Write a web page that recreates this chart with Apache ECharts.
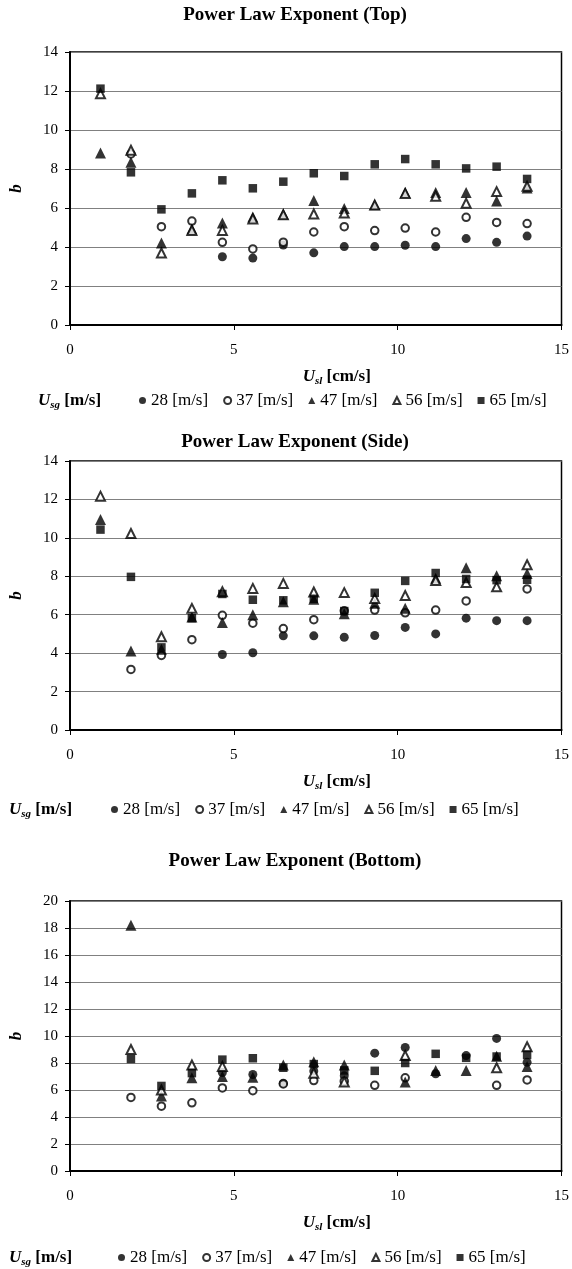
<!DOCTYPE html>
<html>
<head>
<meta charset="utf-8">
<script src="https://cdn.jsdelivr.net/npm/echarts@6/dist/echarts.min.js"></script>
<style>
  html, body { margin: 0; padding: 0; background: #fff; }
  #main { width: 572px; height: 1269px; }
</style>
</head>
<body>
<div id="main"></div>
<script>
// superficial liquid velocity, cm/s
var usl = [0.93, 1.86, 2.79, 3.72, 4.65, 5.58, 6.51, 7.44, 8.37, 9.30, 10.23, 11.16, 12.09, 13.02, 13.95];
var names = ['28 [m/s]', '37 [m/s]', '47 [m/s]', '56 [m/s]', '65 [m/s]'];
var xTicks = [0, 5, 10, 15];

// top
var top28 = [null, null, null, null, 3.5, 3.43, 4.1, 3.7, 4.02, 4.02, 4.09, 4.02, 4.43, 4.24, 4.56];
var top37 = [null, 8.77, 5.04, 5.33, 4.24, 3.9, 4.25, 4.77, 5.04, 4.84, 4.97, 4.77, 5.52, 5.26, 5.2];
var top47 = [8.82, 8.34, 4.2, 4.92, 5.23, 5.54, 5.69, 6.38, 5.97, 6.17, 6.79, 6.79, 6.79, 6.36, 7.03];
var top56 = [11.86, 8.96, 3.69, 4.85, 4.85, 5.44, 5.65, 5.69, 5.74, 6.15, 6.75, 6.6, 6.24, 6.84, 7.11];
var top65 = [12.12, 7.83, 5.93, 6.75, 7.42, 7.01, 7.35, 7.78, 7.64, 8.24, 8.51, 8.24, 8.03, 8.12, 7.49];

// side
var side28 = [null, null, null, null, 3.93, 4.02, 4.9, 4.9, 4.83, 4.92, 5.34, 5.0, 5.82, 5.69, 5.69];
var side37 = [null, 3.15, 3.88, 4.7, 5.97, 5.56, 5.28, 5.74, 6.2, 6.24, 6.1, 6.24, 6.72, null, 7.34];
var side47 = [10.95, 4.11, 4.2, 5.88, 5.6, 6.0, 6.67, 6.81, 6.05, 6.6, 6.33, 7.9, 8.45, 8.03, 8.14];
var side56 = [12.17, 10.23, 4.85, 6.33, 7.2, 7.37, 7.63, 7.18, 7.15, 6.85, 7.0, 7.78, 7.68, 7.45, 8.6];
var side65 = [10.43, 7.97, 4.3, 5.82, 7.08, 6.78, 6.75, 6.83, 6.19, 7.14, 7.76, 8.17, 7.86, 7.8, 7.82];

// bottom
var bot28 = [null, null, null, null, 7.3, 7.15, 6.5, 7.4, 7.05, 8.73, 9.15, 7.2, 8.55, 9.82, 8.05];
var bot37 = [null, 5.45, 4.8, 5.05, 6.15, 5.95, 6.45, 6.7, 6.65, 6.35, 6.9, null, null, 6.35, 6.75];
var bot47 = [null, 18.2, 5.55, 6.9, 7.0, 6.95, 7.85, 8.1, 7.85, null, 6.6, 7.45, 7.45, 8.5, 7.75];
var bot56 = [null, 9.0, 6.0, 7.85, 7.75, null, null, 7.25, 6.6, null, 8.55, null, null, 7.65, 9.2];
var bot65 = [null, 8.3, 6.3, 7.25, 8.25, 8.35, 7.65, 7.92, 7.45, 7.42, 8.0, 8.68, 8.38, 8.48, 8.6];

var panels = [
    {title: 'Power Law Exponent (Top)', yMax: 14, sets: [top28, top37, top47, top56, top65]},
    {title: 'Power Law Exponent (Side)', yMax: 14, sets: [side28, side37, side47, side56, side65]},
    {title: 'Power Law Exponent (Bottom)', yMax: 20, sets: [bot28, bot37, bot47, bot56, bot65]}
];

var FONT = '"Liberation Serif", "Times New Roman", serif';
var symbols = ['circle', 'emptyCircle', 'triangle', 'emptyTriangle', 'rect'];
var sizes = [9, 7.5, 11, 9, 8.5];

// layout of each panel (pixels)
var boxes = [
    {top: 52, height: 273, titleY: 15, legendX: 134, legendY: 387, usgX: 38},
    {top: 461, height: 269, titleY: 442, legendX: 106, legendY: 796, usgX: 9},
    {top: 901, height: 270, titleY: 861, legendX: 113, legendY: 1244, usgX: 9}
];

var chart = echarts.init(document.getElementById('main'));

var grids = [], xAxes = [], yAxes = [], series = [], legends = [], graphics = [];

var rich = {
    u: {fontFamily: FONT, fontSize: 17, fontWeight: 'bold', fontStyle: 'italic', color: '#000', lineHeight: 20},
    s: {fontFamily: FONT, fontSize: 11, fontWeight: 'bold', fontStyle: 'italic', color: '#000', lineHeight: 10, verticalAlign: 'bottom'},
    t: {fontFamily: FONT, fontSize: 17, fontWeight: 'bold', color: '#000', lineHeight: 20}
};

panels.forEach(function (p, k) {
    var b = boxes[k];
    grids.push({
        left: 67, top: b.top, width: 495, height: b.height,
        show: true, borderColor: '#000', borderWidth: 1.5, backgroundColor: '#fff'
    });
    xAxes.push({
        type: 'value', gridIndex: k,
        min: xTicks[0], max: xTicks[xTicks.length - 1], interval: xTicks[1] - xTicks[0],
        axisLine: {onZero: false, lineStyle: {color: '#000', width: 2}},
        axisTick: {length: 5, lineStyle: {color: '#000'}},
        splitLine: {show: false},
        axisLabel: {color: '#000', fontFamily: FONT, fontSize: 15, margin: 18},
        name: '{u|U}{s|sl}{t| [cm/s]}',
        nameLocation: 'middle', nameGap: 42,
        nameTextStyle: {rich: rich, padding: [0, 0, 0, 42]}
    });
    yAxes.push({
        type: 'value', gridIndex: k, min: 0, max: p.yMax, interval: 2,
        axisLine: {lineStyle: {color: '#000', width: 2}},
        axisTick: {length: 5, lineStyle: {color: '#000'}},
        splitLine: {lineStyle: {color: '#808080', width: 1}},
        axisLabel: {color: '#000', fontFamily: FONT, fontSize: 15, margin: 12},
        name: 'b', nameLocation: 'middle', nameGap: 45,
        nameTextStyle: {fontFamily: FONT, fontSize: 17, fontWeight: 'bold', fontStyle: 'italic', color: '#000'}
    });
    p.sets.forEach(function (vals, j) {
        var pts = [];
        vals.forEach(function (v, i) {
            if (v !== null) pts.push([usl[i], v]);
        });
        series.push({
            type: 'scatter', name: names[j], xAxisIndex: k, yAxisIndex: k,
            symbol: symbols[j], symbolSize: sizes[j],
            itemStyle: {color: '#000', borderWidth: symbols[j].indexOf('empty') === 0 ? 1.6 : 0},
            data: pts
        });
    });
    legends.push({
        left: b.legendX, top: b.legendY, itemWidth: 7, itemHeight: 7, itemGap: 15,
        selectedMode: false,
        textStyle: {fontFamily: FONT, fontSize: 17, color: '#000'},
        data: names.map(function (n, j) { return {name: n, icon: symbols[j]}; })
    });
    graphics.push({
        type: 'text', x: 295, y: b.titleY,
        style: {text: p.title, textAlign: 'center', verticalAlign: 'middle',
            fontFamily: FONT, fontSize: 19, fontWeight: 'bold', fill: '#000'}
    });
    graphics.push({
        type: 'text', x: b.usgX, y: b.legendY + 14,
        style: {text: '{u|U}{s|sg}{t| [m/s]}', rich: rich, verticalAlign: 'middle'}
    });
});

chart.setOption({
    backgroundColor: '#fff',
    animation: false,
    grid: grids,
    xAxis: xAxes,
    yAxis: yAxes,
    legend: legends,
    graphic: graphics,
    series: series
});
</script>
</body>
</html>
